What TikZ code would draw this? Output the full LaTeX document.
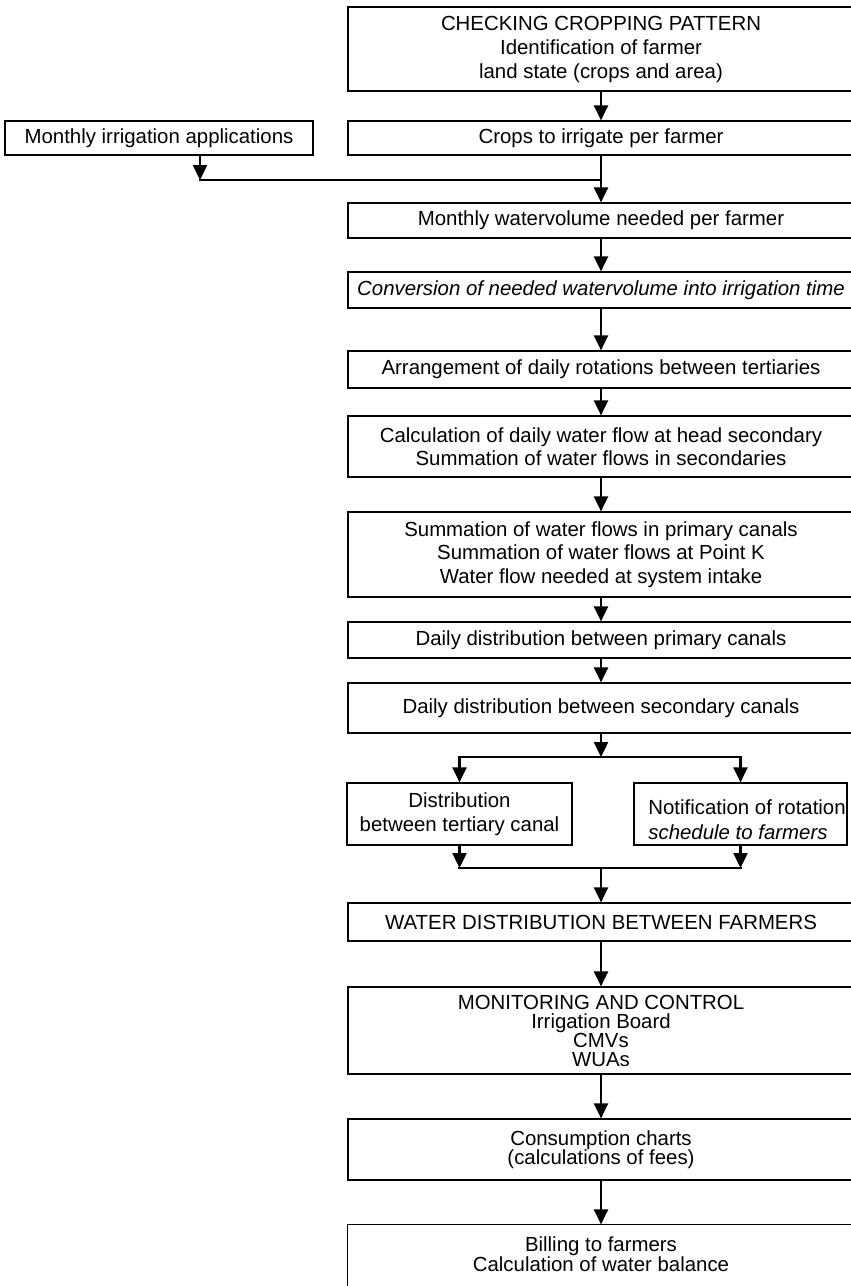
\documentclass[tikz,border=0pt]{standalone}
\usepackage{fontspec}
\setmainfont{Liberation Sans}
\usetikzlibrary{arrows.meta}
\newcommand\fsz[1]{\fontsize{10.2pt}{#1}\selectfont}
\tikzset{
  box/.style={draw, line width=0.6pt, inner sep=0pt, minimum width=253pt, align=center, font=\fsz{11.75pt}},
  boxline/.style={line width=0.6pt},
  arr/.style={line width=1.2pt, -{Triangle[width=7pt,length=7.5pt]}},
  ln/.style={line width=1.2pt, line cap=rect}
}
\begin{document}
\begin{tikzpicture}[x=0.5pt, y=-0.5pt]
\useasboundingbox (0,0) rectangle (851,1286);
\node[box, minimum height=42pt, font=\fsz{12pt}] (b1) at (601,49) {CHECKING CROPPING PATTERN\\Identification of farmer\\land state (crops and area)};
\node[box, minimum height=17pt] (b2) at (601,138) {Crops to irrigate per farmer};
\node[box, line width=1.3pt, minimum width=154pt, minimum height=17pt] (mia) at (159,138) {Monthly irrigation applications};
\node[box, minimum height=17.5pt] (b3) at (601,220.5) {Monthly watervolume needed per farmer};
\node[box, minimum height=18pt, font=\fsz{11.75pt}\itshape] (b4) at (601,290) {Conversion of needed watervolume into irrigation time};
\node[box, minimum height=18.5pt] (b5) at (601,369.5) {Arrangement of daily rotations between tertiaries};
\node[box, minimum height=30.5pt, font=\fsz{11.5pt}] (b6) at (601,446.5) {Calculation of daily water flow at head secondary\\Summation of water flows in secondaries};
\node[box, minimum height=42.5pt] (b7) at (601,554.5) {Summation of water flows in primary canals\\Summation of water flows at Point K\\Water flow needed at system intake};
\node[box, minimum height=18pt] (b8) at (601,640) {Daily distribution between primary canals};
\node[box, minimum height=25pt] (b9) at (601,708) {Daily distribution between secondary canals};
\node[box, minimum width=112.5pt, minimum height=31pt, font=\fsz{12pt}] (b10a) at (459.5,814) {Distribution\\between tertiary canal};
\node[box, minimum width=106.5pt, minimum height=31pt] (b10b) at (740.5,814) {};
\node[anchor=west, align=left, inner sep=0pt, font=\fsz{12.5pt}] (b10t) at (648,820) {Notification of rotation\\\textit{schedule to farmers}};
\node[box, minimum height=19pt] (b11) at (601,922) {WATER DISTRIBUTION BETWEEN FARMERS};
\node[box, minimum height=43.5pt, font=\fsz{9.5pt}] (b12) at (601,1030.5) {MONITORING AND CONTROL\\Irrigation Board\\CMVs\\WUAs};
\node[box, minimum height=30.5pt, font=\fsz{9.75pt}] (b13) at (601,1149.5) {Consumption charts\\(calculations of fees)};
\node[box, draw=none, minimum height=29pt, font=\fsz{10pt}] (b14) at (601,1254) {Billing to farmers\\Calculation of water balance};
\draw[boxline] ([yshift=-20pt]b14.south west) -- (b14.north west) -- (b14.north east) -- ([yshift=-20pt]b14.south east);

\coordinate (jl) at (200,180);
\coordinate (jr) at (601,180);
\coordinate (split) at (601,757);
\coordinate (sl) at (459.5,757);
\coordinate (sr) at (740.5,757);
\coordinate (ml) at (459.5,868);
\coordinate (mr) at (740.5,868);
\coordinate (merge) at (601,868);

\draw[arr] (b1.south) -- (b2.north);
\draw[arr] (mia.south -| jl) -- (jl);
\draw[ln] (jl) -- (jr);
\draw[arr] (b2.south) -- (b3.north);
\draw[arr] (b3.south) -- (b4.north);
\draw[arr] (b4.south) -- (b5.north);
\draw[arr] (b5.south) -- (b6.north);
\draw[arr] (b6.south) -- (b7.north);
\draw[arr] (b7.south) -- (b8.north);
\draw[arr] (b8.south) -- (b9.north);
\draw[arr] (b9.south) -- (split);
\draw[ln] (sl) -- (sr);
\draw[arr] (sl) -- (b10a.north);
\draw[arr] (sr) -- (b10b.north);
\draw[arr] (b10a.south) -- (ml);
\draw[arr] (b10b.south) -- (mr);
\draw[ln] (ml) -- (mr);
\draw[arr] (merge) -- (b11.north);
\draw[arr] (b11.south) -- (b12.north);
\draw[arr] (b12.south) -- (b13.north);
\draw[arr] (b13.south) -- (b14.north);
\end{tikzpicture}
\end{document}
